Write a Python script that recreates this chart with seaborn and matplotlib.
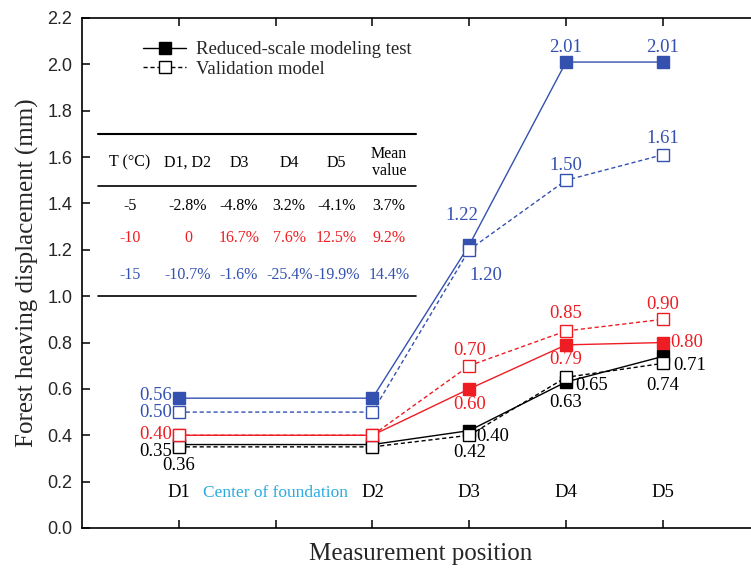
import matplotlib
matplotlib.use("Agg")
import matplotlib.pyplot as plt
from matplotlib.lines import Line2D
import seaborn as sns
import pandas as pd

# ---------------- data ----------------
positions = [1, 3, 4, 5, 6]
pos_labels = ["D1", "D2", "D3", "D4", "D5"]
temps = ["-5", "-10", "-15"]

test_m5 = [0.36, 0.36, 0.42, 0.63, 0.74]
valid_m5 = [0.35, 0.35, 0.40, 0.65, 0.71]
test_m10 = [0.40, 0.40, 0.60, 0.79, 0.80]
valid_m10 = [0.40, 0.40, 0.70, 0.85, 0.90]
test_m15 = [0.56, 0.56, 1.22, 2.01, 2.01]
valid_m15 = [0.50, 0.50, 1.20, 1.50, 1.61]

table_header = ["T (\u00b0C)", "D1, D2", "D3", "D4", "D5", "Mean\nvalue"]
row_m5 = ["-5", "-2.8%", "-4.8%", "3.2%", "-4.1%", "3.7%"]
row_m10 = ["-10", "0", "16.7%", "7.6%", "12.5%", "9.2%"]
row_m15 = ["-15", "-10.7%", "-1.6%", "-25.4%", "-19.9%", "14.4%"]

legend_labels = ["Reduced-scale modeling test", "Validation model"]

# ---------------- style ----------------
sns.set_style("ticks")
plt.rcParams["font.family"] = ["Liberation Serif", "DejaVu Serif"]
SANS = "Liberation Sans"

BLACK = "#000000"
RED = "#EE1D24"
BLUE = "#3451B0"
CYAN = "#29ABE2"
colors = {"-5": BLACK, "-10": RED, "-15": BLUE}

series = {
    ("-5", "test"): test_m5, ("-5", "valid"): valid_m5,
    ("-10", "test"): test_m10, ("-10", "valid"): valid_m10,
    ("-15", "test"): test_m15, ("-15", "valid"): valid_m15,
}

fig = plt.figure(figsize=(7.51, 5.73), dpi=100)
ax = fig.add_axes([82 / 751, 45 / 573, 677.6 / 751, 510 / 573])

for (t, kind), vals in series.items():
    c = colors[t]
    df = pd.DataFrame({"pos": positions, "val": vals})
    if kind == "test":
        sns.lineplot(data=df, x="pos", y="val", ax=ax, color=c, lw=1.0,
                     marker="s", markersize=9, markerfacecolor=c,
                     markeredgecolor=c, markeredgewidth=1.0, zorder=3)
    else:
        sns.lineplot(data=df, x="pos", y="val", ax=ax, color=c, lw=1.0,
                     linestyle=(0, (3, 2)),
                     marker="s", markersize=9, markerfacecolor="white",
                     markeredgecolor=c, markeredgewidth=1.0, zorder=4)

# data labels (offsets in pixels: dx, dy, ha)
px = 0.72
label_spec = {
    ("-15", "test"): [(-7, 3, "right"), None, (-7, 30, "center"), (0, 15, "center"), (0, 15, "center")],
    ("-15", "valid"): [(-7, 0, "right"), None, (17, -26, "center"), (0, 15, "center"), (0, 16, "center")],
    ("-10", "test"): [(-7, 1, "right"), None, (0, -16, "center"), (0, -15, "center"), (7, 0, "left")],
    ("-10", "valid"): [None, None, (0, 15, "center"), (0, 17, "center"), (0, 15, "center")],
    ("-5", "test"): [(0, -21, "center"), None, (0, -22, "center"), (0, -21, "center"), (0, -29, "center")],
    ("-5", "valid"): [(-7, -5, "right"), None, (7, -1, "left"), (9, -8, "left"), (10, -2, "left")],
}
for key, specs in label_spec.items():
    vals = series[key]
    for xi, v, sp in zip(positions, vals, specs):
        if sp is None:
            continue
        dx, dy, ha = sp
        ax.annotate(f"{v:.2f}", (xi, v), xytext=(dx * px, dy * px),
                    textcoords="offset points", ha=ha, va="center",
                    fontsize=13.5, color=colors[key[0]], zorder=6)

# position labels inside plot
for xi, lab in zip(positions, pos_labels):
    ax.text(xi, 0.151, lab, ha="center", va="center", fontsize=13.5, color=BLACK)
ax.text(2, 0.151, "Center of foundation", ha="center", va="center",
        fontsize=12.5, color=CYAN)

# table
tx0, tx1 = 0.165, 3.45
ax.plot([tx0, tx1], [1.70, 1.70], color=BLACK, lw=1.5, zorder=2)
ax.plot([tx0, tx1], [1.475, 1.475], color=BLACK, lw=1.2, zorder=2)
ax.plot([tx0, tx1], [1.0, 1.0], color=BLACK, lw=1.2, zorder=2)
col_x = [0.496, 1.095, 1.62, 2.14, 2.63, 3.17]
for cx, h in zip(col_x, table_header):
    ax.text(cx, 1.575, h, ha="center", va="center", fontsize=11.5,
            color=BLACK, linespacing=1.1)
for row, yy, t in zip([row_m5, row_m10, row_m15], [1.389, 1.251, 1.091], temps):
    for cx, cell in zip(col_x, row):
        ax.text(cx, yy, cell, ha="center", va="center", fontsize=11.5,
                color=colors[t])

# legend
handles = [
    Line2D([], [], color=BLACK, lw=1.0, marker="s", markersize=9,
           markerfacecolor=BLACK, markeredgecolor=BLACK),
    Line2D([], [], color=BLACK, lw=1.0, linestyle=(0, (3, 2)), marker="s",
           markersize=9, markerfacecolor="white", markeredgecolor=BLACK),
]
ax.legend(handles, legend_labels, loc="upper left", bbox_to_anchor=(0.09, 0.955),
          frameon=False, fontsize=13.5, handlelength=2.3, handletextpad=0.55,
          labelspacing=0.15, borderpad=0, borderaxespad=0)

# axes
ax.set_xlim(0, 7)
ax.set_ylim(0, 2.2)
ax.set_yticks([i * 0.2 for i in range(12)])
ax.set_yticklabels([f"{i * 0.2:.1f}" for i in range(12)], fontfamily=SANS, fontsize=13)
ax.set_xticks([1, 2, 3, 4, 5, 6])
ax.set_xticklabels([])
ax.tick_params(direction="in", length=6, width=1.1, top=True, right=True,
               pad=7, color=BLACK)
for s in ax.spines.values():
    s.set_visible(True)
    s.set_linewidth(1.2)
    s.set_color(BLACK)
ax.set_xlabel("Measurement position", fontsize=18, labelpad=4)
ax.set_ylabel("Forest heaving displacement (mm)", fontsize=18, labelpad=6)

fig.savefig("out.png", dpi=100)
